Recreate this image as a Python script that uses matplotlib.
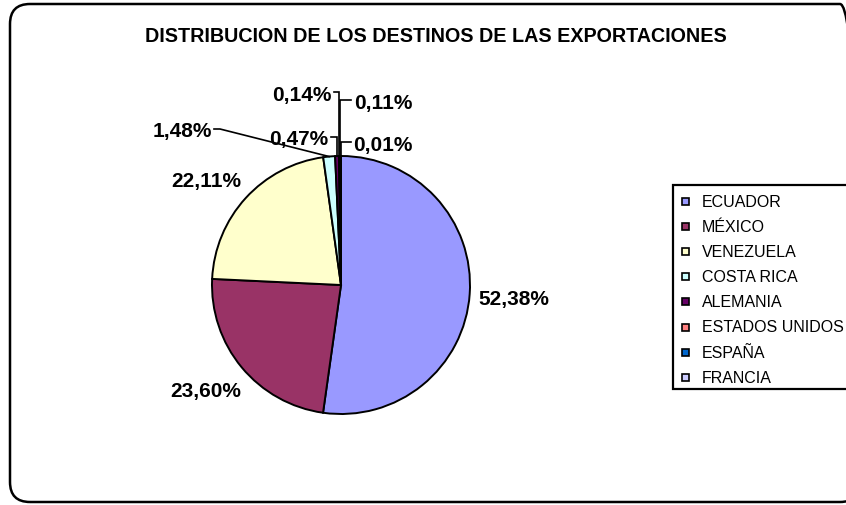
import numpy as np
import matplotlib
matplotlib.use("Agg")
import matplotlib.pyplot as plt
from matplotlib.patches import FancyBboxPatch, Rectangle

plt.rcParams['font.family'] = ['Liberation Sans', 'DejaVu Sans']

title = "DISTRIBUCION DE LOS DESTINOS DE LAS EXPORTACIONES"
countries = ["ECUADOR", "MÉXICO", "VENEZUELA", "COSTA RICA", "ALEMANIA",
             "ESTADOS UNIDOS", "ESPAÑA", "FRANCIA"]
shares = [52.38, 23.60, 22.11, 1.48, 0.47, 0.14, 0.11, 0.01]
colors = ["#9999FF", "#993366", "#FFFFCC", "#CCFFFF", "#660066",
          "#FF8080", "#0066CC", "#CCCCFF"]

W, H = 846, 506
fig = plt.figure(figsize=(W / 100, H / 100), dpi=100)
ax = fig.add_axes([0, 0, 1, 1])

def Y(p):
    return H - p

cx, cy, R = 341, 286, 129
wedges, _ = ax.pie(shares, colors=colors, startangle=90, counterclock=False,
                   center=(cx, Y(cy)), radius=R,
                   wedgeprops=dict(edgecolor="black", linewidth=1.4))
ax.set_xlim(0, W)
ax.set_ylim(0, H)
ax.set_aspect('auto')
ax.axis('off')

# outer rounded border (right side runs off the image)
ax.add_patch(FancyBboxPatch((10, Y(503)), 850, 498,
                            boxstyle="round,pad=0,rounding_size=20",
                            fc="none", ec="black", lw=1.8, clip_on=False))

ax.text(436, Y(36), title, ha="center", va="center", fontsize=14.2,
        fontweight="bold")

# percentage labels (pixel layout positions)
label_pos = [(514, 299), (206, 392), (206, 182), (182, 132),
             (299, 140), (302, 95), (383, 103), (383, 145)]
text_side = ["", "", "", "right", "right", "right", "left", "left"]
for i, (v, (lx, ly)) in enumerate(zip(shares, label_pos)):
    s = f"{v:.2f}%".replace(".", ",")
    ax.text(lx, Y(ly), s, ha="center", va="center", fontsize=15,
            fontweight="bold")
    if text_side[i]:
        w = wedges[i]
        mid = np.deg2rad((w.theta1 + w.theta2) / 2)
        ex = cx + R * np.cos(mid)
        ey = Y(cy) + R * np.sin(mid)
        half = 31
        if text_side[i] == "right":
            sx = lx + half + 1
        else:
            sx = lx - half - 1
        if i == 3:
            xs = [sx, sx + 6, ex]
            ys = [Y(ly - 2), Y(ly - 2), ey]
        else:
            xs = [sx, ex, ex]
            ys = [Y(ly - 2), Y(ly - 2), ey]
        ax.plot(xs, ys, color="black", lw=1.2, solid_joinstyle="miter")

# legend (box runs off the right edge)
ax.add_patch(Rectangle((673, Y(390)), 190, 204, fc="white", ec="black",
                       lw=1.6, clip_on=False))
for k, (name, c) in enumerate(zip(countries, colors)):
    yy = 202.5 + k * 25.1
    ax.add_patch(Rectangle((682, Y(yy) - 3.5), 7, 7, fc=c, ec="black",
                           lw=1.2))
    ax.text(702, Y(yy), name, ha="left", va="center", fontsize=11.5)

fig.savefig("out.png", dpi=100)
